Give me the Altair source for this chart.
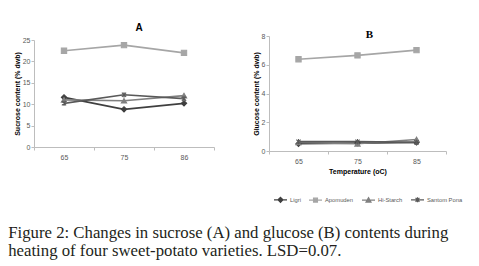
import altair as alt
import pandas as pd

varieties = ["Ligri", "Apomuden", "Hi-Starch", "Santom Pona"]
temps_a = ["65", "75", "86"]
temps_b = ["65", "75", "85"]

sucrose = {
    "Ligri": [11.6, 8.8, 10.2],
    "Apomuden": [22.5, 23.8, 22.0],
    "Hi-Starch": [11.0, 10.8, 12.0],
    "Santom Pona": [10.2, 12.2, 11.3],
}
glucose = {
    "Ligri": [0.50, 0.55, 0.60],
    "Apomuden": [6.38, 6.65, 7.02],
    "Hi-Starch": [0.60, 0.50, 0.80],
    "Santom Pona": [0.65, 0.65, 0.60],
}

colors = ["#3f3f3f", "#a6a6a6", "#808080", "#595959"]
point_shapes = ["diamond", "square", "triangle-up",
                "M-0.8,-0.8L0.8,0.8M-0.8,0.8L0.8,-0.8M0,-1V1"]
legend_paths = [
    "M-1,0H1M0,-0.38L0.38,0L0,0.38L-0.38,0Z",
    "M-1,0H1M-0.3,-0.3H0.3V0.3H-0.3Z",
    "M-1,0H1M0,-0.38L0.38,0.3H-0.38Z",
    "M-1,0H1M-0.3,-0.3L0.3,0.3M-0.3,0.3L0.3,-0.3M0,-0.38V0.38",
]


def frame(values, temps):
    rows = []
    for v in varieties:
        for t, y in zip(temps, values[v]):
            rows.append({"variety": v, "vl": v, "temp": t, "value": y})
    return pd.DataFrame(rows)


color = alt.Color("variety:N", scale=alt.Scale(domain=varieties, range=colors), legend=None)
stroke = alt.Stroke("variety:N", scale=alt.Scale(domain=varieties, range=colors), legend=None)
shape = alt.Shape("variety:N", scale=alt.Scale(domain=varieties, range=point_shapes), legend=None)

legend = alt.Legend(
    title=None, orient="none", direction="horizontal",
    legendX=4, legendY=156,
    labelFont="Liberation Sans", labelFontSize=5.8, labelColor="#595959",
    symbolSize=169, symbolStrokeWidth=1.2, labelOffset=2, columnPadding=5,
)


def panel(df, temps, ymax, ystep, ytitle, xtitle, title, w, h, title_font, title_dx,
          title_offset, title_size, with_legend):
    x = alt.X("temp:O", sort=temps,
              scale=alt.Scale(type="band", paddingInner=0, paddingOuter=0),
              axis=alt.Axis(title=xtitle, labelAngle=0, tickBand="extent",
                            domainColor="#bdbdbd", tickColor="#bdbdbd", tickSize=3,
                            labelColor="#595959", labelFontSize=7, labelFont="Liberation Sans",
                            labelPadding=3,
                            titleFont="Liberation Sans", titleFontSize=7, titleFontWeight="bold",
                            titleColor="#000000", titlePadding=3))
    y = alt.Y("value:Q", scale=alt.Scale(domain=[0, ymax], nice=False),
              axis=alt.Axis(title=ytitle, values=list(range(0, ymax + 1, ystep)), grid=False,
                            domainColor="#bdbdbd", tickColor="#bdbdbd", tickSize=3,
                            labelColor="#595959", labelFontSize=7, labelFont="Liberation Sans",
                            labelPadding=1,
                            titleFont="Liberation Sans", titleFontSize=7, titleFontWeight="bold",
                            titleColor="#000000", titlePadding=2))
    base = alt.Chart(df)
    lines = base.mark_line(strokeWidth=1.6).encode(x=x, y=y, color=color, detail="variety:N")
    pts = base.mark_point(filled=True, size=28, strokeWidth=1.1, opacity=1).encode(
        x=x, y=y, color=color, stroke=stroke, shape=shape)
    layers = [lines, pts]
    if with_legend:
        leg = base.transform_filter("false").mark_point(
            size=169, strokeWidth=1.2, opacity=1).encode(
            x=x, y=y,
            fill=alt.Fill("vl:N", scale=alt.Scale(domain=varieties, range=colors), legend=legend),
            stroke=alt.Stroke("vl:N", scale=alt.Scale(domain=varieties, range=colors), legend=legend),
            shape=alt.Shape("vl:N", scale=alt.Scale(domain=varieties, range=legend_paths), legend=legend),
        )
        layers.append(leg)
    out = alt.layer(*layers).properties(
        width=w, height=h,
        title=alt.TitleParams(title, font=title_font, fontSize=title_size, fontWeight="bold",
                              color="#000000", dx=title_dx, offset=title_offset),
    )
    if with_legend:
        out = out.resolve_scale(fill="independent", stroke="independent", shape="independent")
    return out


a = panel(frame(sucrose, temps_a), temps_a, 25, 5, "Sucrose content (% dwb)", None, "A",
          180, 107, "Liberation Sans", 15, 3, 10, False)
b = panel(frame(glucose, temps_b), temps_b, 8, 2, "Glucose content (% dwb)", "Temperature (oC)", "B",
          177, 115, "Liberation Serif", 12, -8, 11, True)

caption = [
    "Figure 2: Changes in sucrose (A) and glucose (B) contents during",
    "heating of four sweet-potato varieties. LSD=0.07.",
]

chart = alt.hconcat(a, b, spacing=55, bounds="flush", center=True).resolve_scale(
    x="independent", y="independent", color="independent", shape="independent",
    fill="independent", stroke="independent"
).properties(
    title=alt.TitleParams(caption, orient="bottom", anchor="start", frame="bounds",
                          font="Liberation Serif", fontSize=16.75, fontWeight="normal",
                          color="#231f20", lineHeight=18, offset=20, dx=-5),
    padding={"left": 0, "top": 15, "right": 0, "bottom": 2},
).configure_view(stroke=None)

chart.save("out.html", embed_options={"renderer": "svg", "actions": False})
